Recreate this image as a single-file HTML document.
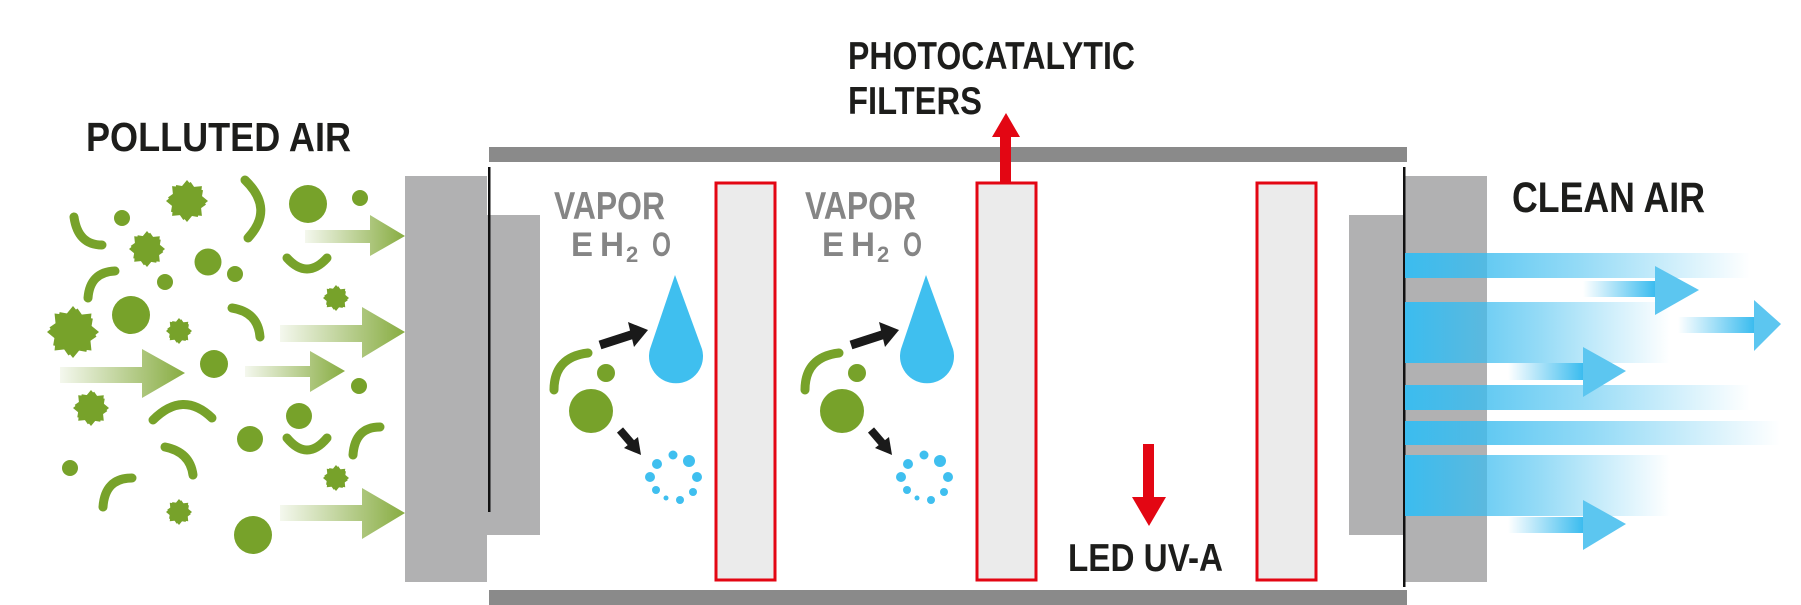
<!DOCTYPE html>
<html><head><meta charset="utf-8"><style>
html,body{margin:0;padding:0;background:#fff;}
svg{display:block;}
text{font-family:"Liberation Sans",sans-serif;font-weight:bold;}
</style></head><body>
<svg width="1801" height="605" viewBox="0 0 1801 605" xmlns="http://www.w3.org/2000/svg">
<defs>
<linearGradient id="gg" x1="0" y1="0" x2="1" y2="0">
<stop offset="0" stop-color="#7aa32c" stop-opacity="0.08"/>
<stop offset="1" stop-color="#7aa32c" stop-opacity="0.9"/>
</linearGradient>
<linearGradient id="bb" x1="0" y1="0" x2="1" y2="0">
<stop offset="0" stop-color="#3bbcef" stop-opacity="1"/>
<stop offset="0.5" stop-color="#3bbcef" stop-opacity="0.55"/>
<stop offset="1" stop-color="#3bbcef" stop-opacity="0"/>
</linearGradient>
<linearGradient id="ba" x1="0" y1="0" x2="1" y2="0">
<stop offset="0" stop-color="#3bbcef" stop-opacity="0"/>
<stop offset="1" stop-color="#3bbcef" stop-opacity="1"/>
</linearGradient>
<g id="sp">
<polygon points="1,0 0.665,0.276 0.71,0.71 0.276,0.665 0,1 -0.276,0.665 -0.71,0.71 -0.665,0.276 -1,0 -0.665,-0.276 -0.71,-0.71 -0.276,-0.665 0,-1 0.276,-0.665 0.71,-0.71 0.665,-0.276"/>
<polygon transform="rotate(11)" points="0.92,0 0.66,0.27 0.65,0.65 0.27,0.66 0,0.92 -0.27,0.66 -0.65,0.65 -0.66,0.27 -0.92,0 -0.66,-0.27 -0.65,-0.65 -0.27,-0.66 0,-0.92 0.27,-0.66 0.65,-0.65 0.66,-0.27"/>
<circle r="0.72"/>
</g>
</defs>

<!-- housing -->
<rect x="489" y="147" width="918" height="15" fill="#8a8a8a"/>
<rect x="489" y="590" width="918" height="15" fill="#8a8a8a"/>
<rect x="405" y="176" width="82" height="406" fill="#b1b1b2"/>
<rect x="487" y="215" width="53" height="320" fill="#b1b1b2"/>
<rect x="488" y="167" width="2.5" height="345" fill="#111"/>
<rect x="1404" y="176" width="83" height="406" fill="#b1b1b2"/>
<rect x="1349" y="215" width="55" height="320" fill="#b1b1b2"/>
<rect x="1403" y="167" width="2.5" height="420" fill="#111"/>

<!-- filters -->
<rect x="716" y="183" width="59" height="397" fill="#ebebeb" stroke="#e30613" stroke-width="3"/>
<rect x="977" y="183" width="59" height="397" fill="#ebebeb" stroke="#e30613" stroke-width="3"/>
<rect x="1257" y="183" width="59" height="397" fill="#ebebeb" stroke="#e30613" stroke-width="3"/>

<!-- red arrows -->
<rect x="1000" y="135" width="11" height="47" fill="#e30613"/>
<polygon points="992,137 1020,137 1006,113" fill="#e30613"/>
<rect x="1143" y="444" width="11" height="55" fill="#e30613"/>
<polygon points="1132,497 1166,497 1149,526" fill="#e30613"/>

<!-- blue bands -->
<rect x="1405" y="253" width="345" height="25" fill="url(#bb)"/>
<rect x="1405" y="302" width="265" height="61" fill="url(#bb)"/>
<rect x="1405" y="385" width="345" height="25" fill="url(#bb)"/>
<rect x="1405" y="421" width="375" height="24" fill="url(#bb)"/>
<rect x="1405" y="455" width="265" height="61" fill="url(#bb)"/>
<!-- blue arrows -->
<rect x="1583" y="281" width="72" height="16" fill="url(#ba)"/><polygon points="1655,266 1699,290 1655,315" fill="#5cc6f0"/>
<rect x="1678" y="317" width="76" height="16" fill="url(#ba)"/><polygon points="1754,300 1781,324 1754,351" fill="#5cc6f0"/>
<rect x="1508" y="363" width="75" height="17" fill="url(#ba)"/><polygon points="1583,347 1626,371 1583,397" fill="#5cc6f0"/>
<rect x="1508" y="517" width="75" height="16" fill="url(#ba)"/><polygon points="1583,500 1626,524 1583,550" fill="#5cc6f0"/>

<!-- green arrows -->
<g fill="url(#gg)">
<polygon points="305,230 370,230 370,215 405,236 370,256 370,243 305,243"/>
<polygon points="280,325 362,325 362,307 405,332 362,358 362,342 280,342"/>
<polygon points="60,367 142,367 142,349 185,373 142,398 142,383 60,383"/>
<polygon points="245,366 310,366 310,351 345,371 310,392 310,377 245,377"/>
<polygon points="280,505 362,505 362,488 405,513 362,539 362,521 280,521"/>
</g>

<!-- green particles -->
<g fill="#77a22a">
<circle cx="308" cy="204" r="19"/><circle cx="360" cy="198" r="8"/><circle cx="122" cy="218" r="8"/>
<circle cx="208" cy="262" r="13.5"/><circle cx="235" cy="274" r="8"/><circle cx="165" cy="282" r="8"/>
<circle cx="131" cy="315" r="19"/><circle cx="214" cy="364" r="14"/><circle cx="359" cy="386" r="8"/>
<circle cx="299" cy="416" r="13"/><circle cx="250" cy="439" r="13"/><circle cx="70" cy="468" r="8"/>
<circle cx="253" cy="535" r="19"/>
<use href="#sp" transform="translate(187,201) scale(21)"/>
<use href="#sp" transform="translate(147,249) scale(18)"/>
<use href="#sp" transform="translate(336,298) scale(13)"/>
<use href="#sp" transform="translate(73,332) scale(26)"/>
<use href="#sp" transform="translate(179,331) scale(13)"/>
<use href="#sp" transform="translate(91,408) scale(18)"/>
<use href="#sp" transform="translate(336,478) scale(13)"/>
<use href="#sp" transform="translate(179,512) scale(13)"/>
<circle cx="606" cy="373" r="9"/><circle cx="591" cy="411" r="22"/>
<circle cx="857" cy="373" r="9"/><circle cx="842" cy="411" r="22"/>
</g>
<g fill="none" stroke="#77a22a" stroke-width="9" stroke-linecap="round">
<path d="M74,217 Q78,245 102,245"/>
<path d="M245,180 Q275,209 248,238"/>
<path d="M287,258 Q307,280 327,258"/>
<path d="M88,298 Q90,272 115,271"/>
<path d="M232,308 Q258,312 260,337"/>
<path d="M153,420 Q183,390 212,418"/>
<path d="M165,447 Q190,452 193,475"/>
<path d="M287,438 Q307,462 327,438"/>
<path d="M353,455 Q355,427 380,427"/>
<path d="M103,507 Q105,478 132,478"/>
<path d="M554,390 Q554,357 588,353"/>
<path d="M805,390 Q805,357 839,353"/>
</g>

<!-- water sections -->
<g id="ws">
<path d="M675,275 L650,349 A27,27 0 1 0 702,349 Z" fill="#3fbfef"/>
<line x1="600" y1="345" x2="634" y2="334" stroke="#1a1a1a" stroke-width="9"/>
<polygon points="628,322 648,330 634,347" fill="#1a1a1a"/>
<line x1="620" y1="430" x2="632" y2="444" stroke="#1a1a1a" stroke-width="8"/>
<polygon points="624,448 641,455 638,437" fill="#1a1a1a"/>
<g fill="#3fbfef">
<circle cx="673" cy="455" r="4.5"/><circle cx="689" cy="461" r="6"/><circle cx="657" cy="464" r="5"/>
<circle cx="697" cy="477" r="5"/><circle cx="650" cy="477" r="5"/><circle cx="693" cy="492" r="4"/>
<circle cx="656" cy="490" r="4"/><circle cx="680" cy="500" r="4"/><circle cx="666" cy="498" r="2.5"/>
</g>
<text x="554" y="219" font-size="39" fill="#858585" textLength="111" lengthAdjust="spacingAndGlyphs">VAPOR</text>
<text x="571" y="256" font-size="34" fill="#858585" textLength="22" lengthAdjust="spacingAndGlyphs">E</text>
<text x="600" y="256" font-size="34" fill="#858585" textLength="24" lengthAdjust="spacingAndGlyphs">H</text>
<text x="626" y="262" font-size="22" fill="#858585">2</text>
<text x="652" y="256" font-size="34" fill="#858585" textLength="19" lengthAdjust="spacingAndGlyphs">O</text>
</g>
<use href="#ws" transform="translate(251,0)"/>

<!-- labels -->
<g fill="#1d1d1b">
<text x="86" y="151" font-size="41" textLength="265" lengthAdjust="spacingAndGlyphs">POLLUTED AIR</text>
<text x="848" y="69" font-size="39" textLength="287" lengthAdjust="spacingAndGlyphs">PHOTOCATALYTIC</text>
<text x="848" y="114" font-size="39" textLength="134" lengthAdjust="spacingAndGlyphs">FILTERS</text>
<text x="1512" y="212" font-size="43" textLength="193" lengthAdjust="spacingAndGlyphs">CLEAN AIR</text>
<text x="1068" y="571" font-size="39" textLength="155" lengthAdjust="spacingAndGlyphs">LED UV-A</text>
</g>
</svg>
</body></html>
